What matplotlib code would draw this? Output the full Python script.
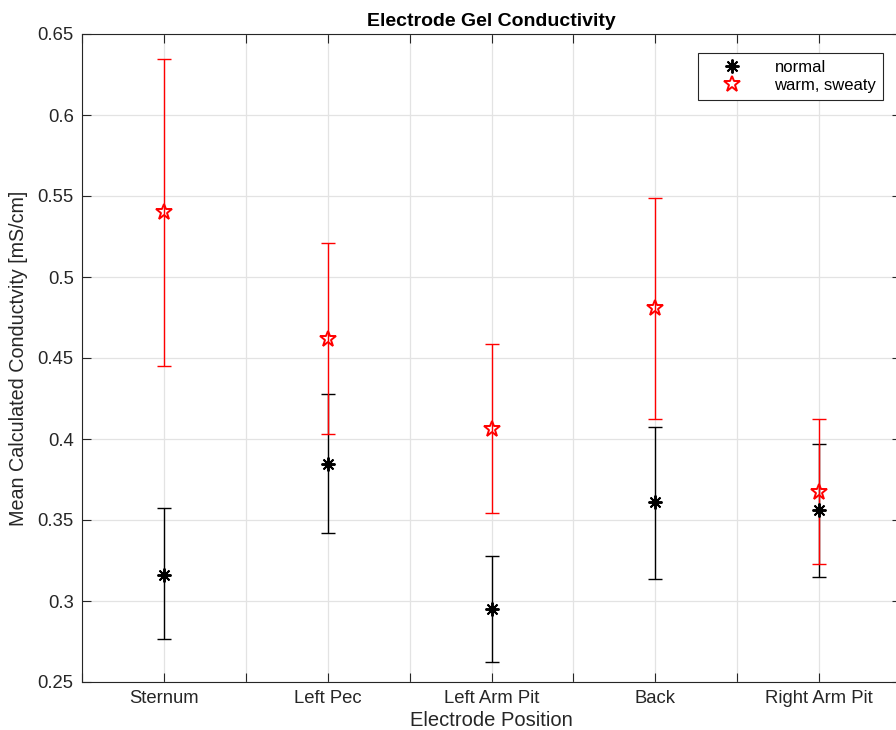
import matplotlib
matplotlib.use("Agg")
import matplotlib.pyplot as plt
from matplotlib.lines import Line2D
import numpy as np

plt.rcParams['font.family'] = ['Liberation Sans', 'DejaVu Sans']

positions = ["Sternum", "Left Pec", "Left Arm Pit", "Back", "Right Arm Pit"]

normal_mean = [0.3162, 0.3846, 0.2950, 0.3611, 0.3562]
normal_upper = [0.3576, 0.4278, 0.3278, 0.4074, 0.3971]
normal_lower = [0.2763, 0.3420, 0.2623, 0.3138, 0.3148]

sweaty_mean = [0.5401, 0.4617, 0.4062, 0.4809, 0.3675]
sweaty_upper = [0.6346, 0.5210, 0.4588, 0.5488, 0.4125]
sweaty_lower = [0.4450, 0.4029, 0.3543, 0.4123, 0.3227]

yticks = [0.25, 0.3, 0.35, 0.4, 0.45, 0.5, 0.55, 0.6, 0.65]
ytick_labels = ["0.25", "0.3", "0.35", "0.4", "0.45", "0.5", "0.55", "0.6", "0.65"]

x = np.arange(1, len(positions) + 1)
fig = plt.figure(figsize=(8.96, 7.30), dpi=100)
ax = fig.add_axes([82 / 896, 48 / 730, 819 / 896, 648 / 730])

asterisk = (8, 2, 0)
n_mean = np.array(normal_mean)
s_mean = np.array(sweaty_mean)
n_err = [n_mean - np.array(normal_lower), np.array(normal_upper) - n_mean]
s_err = [s_mean - np.array(sweaty_lower), np.array(sweaty_upper) - s_mean]

ax.errorbar(x, n_mean, yerr=n_err, fmt='none', ecolor='black', elinewidth=1.0,
            capsize=4.7, capthick=1.0, zorder=3)
ax.plot(x, n_mean, linestyle='none', marker=asterisk, markersize=10,
        markeredgecolor='black', markeredgewidth=1.4, zorder=5)

ax.errorbar(x, s_mean, yerr=s_err, fmt='none', ecolor='red', elinewidth=1.0,
            capsize=4.7, capthick=1.0, zorder=4)
ax.plot(x, s_mean, linestyle='none', marker='*', markersize=12,
        markerfacecolor='none', markeredgecolor='red', markeredgewidth=1.4, zorder=6)

ax.set_xlim(0.5, 5.5)
ax.set_ylim(0.25, 0.65)
xt = np.arange(0.5, 5.51, 0.5)
ax.set_xticks(xt)
ax.set_xticklabels([positions[int(t) - 1] if float(t).is_integer() else "" for t in xt])
ax.set_yticks(yticks)
ax.set_yticklabels(ytick_labels)

ax.grid(True, color='#e3e3e3', linewidth=0.9)
ax.set_axisbelow(True)
for s in ax.spines.values():
    s.set_color('#262626')
    s.set_linewidth(0.8)
ax.tick_params(direction='in', length=6.5, width=0.8, color='#262626',
               labelcolor='#262626', labelsize=13.3, top=True, right=True, pad=6)

ax.set_title("Electrode Gel Conductivity", fontsize=14, fontweight='bold', pad=6)
ax.set_xlabel("Electrode Position", fontsize=14.5, color='#262626', labelpad=3)
ax.set_ylabel("Mean Calculated Conductvity [mS/cm]", fontsize=14.2, color='#262626', labelpad=7)

handles = [
    Line2D([], [], linestyle='none', marker=asterisk, markersize=10,
           markeredgecolor='black', markeredgewidth=1.4),
    Line2D([], [], linestyle='none', marker='*', markersize=12,
           markerfacecolor='none', markeredgecolor='red', markeredgewidth=1.4),
]
leg = ax.legend(handles, ["normal", "warm, sweaty"], loc='upper right',
                bbox_to_anchor=(883 / 896, 1 - 53 / 730), bbox_transform=fig.transFigure,
                fancybox=False, framealpha=1, edgecolor='#262626', fontsize=12,
                handlelength=3.3, handletextpad=0.9, borderpad=0.4, labelspacing=0.2,
                borderaxespad=0)
leg.get_frame().set_linewidth(0.8)

fig.savefig("out.png", dpi=100)
